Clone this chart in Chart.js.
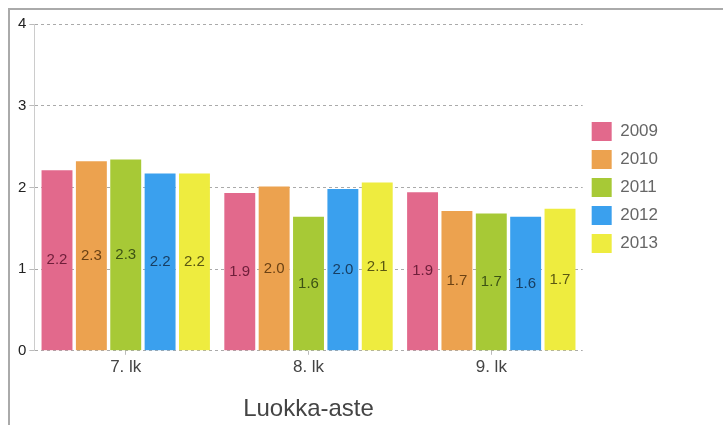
<!DOCTYPE html>
<html>
<head>
<meta charset="utf-8">
<script src="https://cdn.jsdelivr.net/npm/chart.js@4"></script>
<style>
  html, body { margin:0; padding:0; background:#fff; }
  #frame { position:absolute; left:8px; top:8px; width:715px; height:417px; border-top:2px solid #aaa; border-left:2px solid #aaa; box-sizing:border-box; }
  #wrap { position:absolute; left:0; top:0; width:723px; height:425px; }
</style>
</head>
<body>
<div id="frame"></div>
<div id="wrap"><canvas id="chart"></canvas></div>
<script>
// Data
const categories = ['7. lk', '8. lk', '9. lk'];
const years = ['2009', '2010', '2011', '2012', '2013'];
const v2009 = [2.21, 1.93, 1.94];
const v2010 = [2.32, 2.01, 1.71];
const v2011 = [2.34, 1.64, 1.68];
const v2012 = [2.17, 1.98, 1.64];
const v2013 = [2.17, 2.06, 1.74];
const yTicks = [0, 1, 2, 3, 4];

const barColors = ['#e2698c', '#eca24f', '#a7c936', '#3aa0ee', '#eeec3f'];
const labelColors = ['#6e1e3a', '#6b4214', '#3c5214', '#173e63', '#5a5712'];
const FONT = '"Liberation Sans", Arial, sans-serif';

const series = [v2009, v2010, v2011, v2012, v2013];

// value labels in the middle of each bar
const midLabels = {
  id: 'midLabels',
  afterDatasetsDraw(chart){
    const ctx = chart.ctx;
    ctx.save();
    ctx.font = '15px ' + FONT;
    ctx.textAlign = 'center';
    ctx.textBaseline = 'middle';
    chart.data.datasets.forEach((ds, i)=>{
      chart.getDatasetMeta(i).data.forEach((bar, j)=>{
        ctx.fillStyle = labelColors[i];
        ctx.fillText(ds.data[j].toFixed(1), bar.x, (bar.y + bar.base) / 2);
      });
    });
    ctx.restore();
  }
};

new Chart(document.getElementById('chart'), {
  type: 'bar',
  data: {
    labels: categories,
    datasets: years.map((y, i)=>({
      label: y,
      data: series[i],
      backgroundColor: barColors[i],
      borderWidth: 0,
      categoryPercentage: 0.94,
      barPercentage: 0.9
    }))
  },
  options: {
    responsive: true,
    maintainAspectRatio: false,
    animation: false,
    layout: { padding: { left: 15, right: 55, top: 24, bottom: 0 } },
    plugins: {
      tooltip: { enabled: false },
      legend: {
        position: 'right',
        align: 'start',
        title: { display: true, text: '', font: { size: 10 }, padding: { top: 77, bottom: 0 } },
        labels: {
          boxWidth: 20, boxHeight: 19, padding: 9,
          color: '#666', font: { family: FONT, size: 17 }
        }
      }
    },
    scales: {
      x: {
        grid: { display: true, drawOnChartArea: false, offset: false, tickLength: 4, color: '#bbb' },
        border: { display: false },
        ticks: { color: '#444', font: { family: FONT, size: 17 }, padding: 2 },
        title: { display: true, text: 'Luokka-aste', color: '#444', font: { family: FONT, size: 24 }, padding: { top: 16, bottom: 1 } }
      },
      y: {
        min: 0, max: 4,
        afterBuildTicks(axis){ axis.ticks = yTicks.map(v=>({ value: v })); },
        grid: { color: '#aaa', tickLength: 5, tickBorderDash: [], tickColor: '#bbb' },
        border: { display: true, color: '#ccc', width: 1, dash: [3, 3] },
        ticks: { color: '#222', font: { family: FONT, size: 15 }, padding: 3 }
      }
    }
  },
  plugins: [midLabels]
});
</script>
</body>
</html>
